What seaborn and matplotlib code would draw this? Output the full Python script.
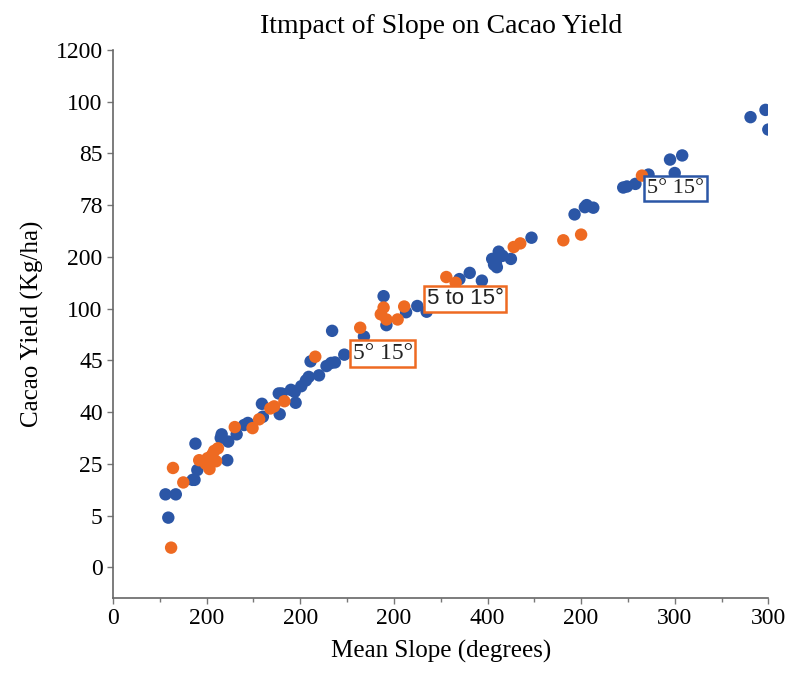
import matplotlib

matplotlib.use("Agg")
import matplotlib.pyplot as plt
import numpy as np
import pandas as pd
import seaborn as sns

# positions are in tick-slot units (the printed tick labels are not linear)
X_TICK_LABELS = ["0", "200", "200", "200", "400", "200", "300", "300"]
Y_TICK_LABELS = ["0", "5", "25", "40", "45", "100", "200", "78", "85", "100", "1200"]

BLUE_X = [0.56, 0.67, 0.59, 0.87, 0.85, 0.90, 0.88, 1.22, 1.16, 1.15, 1.23, 1.32,
          1.40, 1.44, 1.59, 1.60, 1.77, 1.80, 1.78, 1.90, 1.94, 1.95, 2.01, 2.06,
          2.09, 2.11, 2.20, 2.28, 2.33, 2.37, 2.34, 2.47, 2.68, 2.89, 2.92, 3.13,
          3.25, 3.35, 3.70, 3.81, 3.94, 4.05, 4.09, 4.12, 4.16, 4.10, 4.07, 4.25,
          4.47, 4.93, 5.04, 5.06, 5.13, 5.45, 5.49, 5.58, 5.72, 6.00, 5.95, 6.08,
          6.81, 6.97, 7.00]
BLUE_Y = [1.41, 1.41, 0.96, 1.69, 1.69, 1.88, 2.39, 2.07, 2.57, 2.50, 2.43, 2.57,
          2.75, 2.79, 3.16, 2.91, 3.36, 3.36, 2.96, 3.43, 3.39, 3.18, 3.50, 3.61,
          3.68, 3.98, 3.71, 3.89, 3.95, 3.96, 4.57, 4.11, 4.46, 5.24, 4.68, 4.93,
          5.05, 4.94, 5.57, 5.69, 5.54, 5.96, 5.88, 6.10, 6.02, 5.80, 5.85, 5.96,
          6.37, 6.82, 6.96, 7.00, 6.95, 7.34, 7.36, 7.41, 7.59, 7.62, 7.88, 7.96,
          8.70, 8.84, 8.46]

ORANGE_X = [0.62, 0.64, 0.75, 0.92, 0.99, 1.01, 1.06, 1.08, 1.12, 1.03, 1.10,
            1.30, 1.49, 1.56, 1.68, 1.72, 1.83, 2.16, 2.64, 2.86, 2.92, 2.89,
            3.04, 3.11, 3.56, 3.66, 4.28, 4.35, 4.81, 5.00, 5.65]
ORANGE_Y = [0.38, 1.92, 1.64, 2.07, 2.00, 2.11, 2.18, 2.25, 2.30, 1.90, 2.05,
            2.71, 2.69, 2.86, 3.07, 3.11, 3.21, 4.07, 4.63, 4.89, 4.79, 5.02,
            4.79, 5.04, 5.61, 5.50, 6.19, 6.26, 6.32, 6.43, 7.57]

LABELS = ["5° 15°", "5 to 15°", "5° 15°"]
LABEL_X = [2.88, 3.76, 6.01]
LABEL_Y = [4.13, 5.19, 7.32]

BLUE = "#2b56a6"
ORANGE = "#ee6a22"


def main() -> None:
    sns.set_theme(style="white")
    plt.rcParams["font.family"] = ["Liberation Serif", "DejaVu Serif"]
    plt.rcParams["text.color"] = "black"
    plt.rcParams["axes.labelcolor"] = "black"

    df = pd.concat(
        [
            pd.DataFrame({"x": BLUE_X, "y": BLUE_Y, "grp": "blue"}),
            pd.DataFrame({"x": ORANGE_X, "y": ORANGE_Y, "grp": "orange"}),
        ],
        ignore_index=True,
    )

    fig = plt.figure(figsize=(8.02, 6.74), dpi=100)
    ax = fig.add_axes([0.141, 0.113, 0.817, 0.813])
    sns.scatterplot(
        data=df,
        x="x",
        y="y",
        hue="grp",
        palette={"blue": BLUE, "orange": ORANGE},
        s=80,
        edgecolor="none",
        legend=False,
        ax=ax,
    )

    box_edges = [ORANGE, ORANGE, BLUE]
    box_fonts = [["Liberation Serif"], ["Liberation Sans"], ["Liberation Serif"]]
    box_sizes = [17, 16, 16]
    for txt, lx, ly, ec, fam, fs in zip(LABELS, LABEL_X, LABEL_Y, box_edges, box_fonts, box_sizes):
        ax.text(
            lx, ly, txt, ha="center", va="center", fontsize=fs, family=fam,
            color="#222222",
            bbox=dict(boxstyle="square,pad=0.12", fc="white", ec=ec, lw=1.8),
        )

    ax.set_xlim(0, 7)
    ax.set_ylim(-0.59, 10)
    ax.set_xticks(np.arange(len(X_TICK_LABELS)))
    ax.set_xticklabels(X_TICK_LABELS)
    ax.set_xticks(np.arange(0.5, 7, 1), minor=True)
    ax.set_yticks(np.arange(len(Y_TICK_LABELS)))
    ax.set_yticklabels(Y_TICK_LABELS)

    sns.despine(ax=ax)
    for side in ["left", "bottom"]:
        ax.spines[side].set_color("#666666")
        ax.spines[side].set_linewidth(1.2)
    ax.tick_params(axis="both", which="both", direction="out", color="#777777",
                   labelsize=17, labelcolor="black")
    ax.tick_params(axis="both", which="major", length=4, width=1, bottom=True, left=True)
    ax.tick_params(axis="x", which="minor", length=3, width=1, bottom=True)

    ax.set_xlabel("Mean Slope (degrees)", fontsize=18, labelpad=8)
    ax.set_ylabel("Cacao Yield (Kg/ha)", fontsize=18, labelpad=8)
    ax.set_title("Itmpact of Slope on Cacao Yield", fontsize=20, pad=12, color="black")

    fig.savefig("out.png", dpi=100)
    plt.close(fig)


if __name__ == "__main__":
    main()
